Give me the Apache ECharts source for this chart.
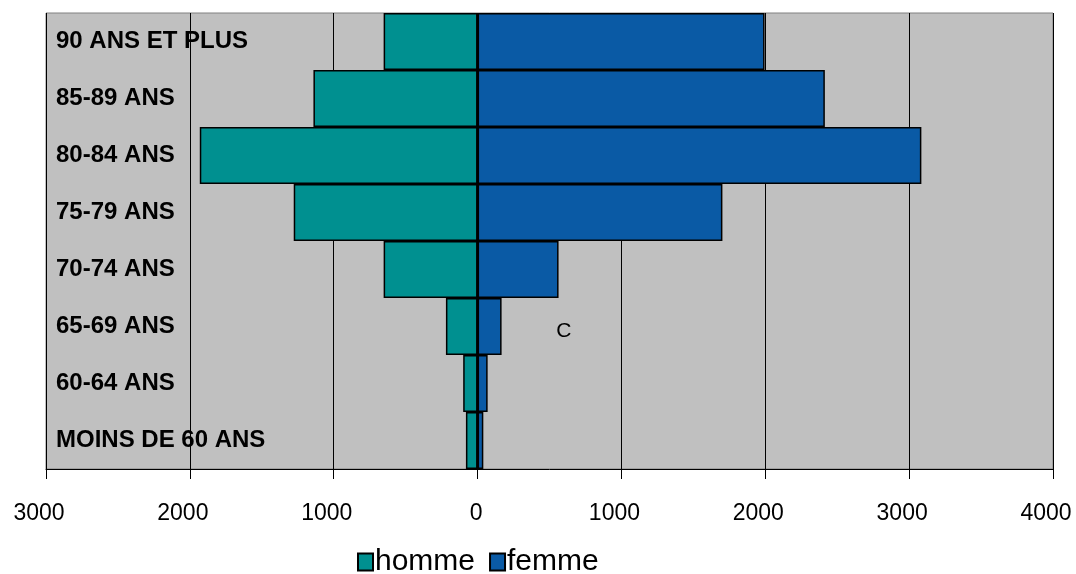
<!DOCTYPE html>
<html><head><meta charset="utf-8">
<script src="https://cdn.jsdelivr.net/npm/echarts@6/dist/echarts.min.js"></script>
<style>html,body{margin:0;padding:0;background:#fff}#c{width:1076px;height:574px}</style>
</head><body><div id="c"></div>
<script>
const categories = ['90 ANS ET PLUS','85-89 ANS','80-84 ANS','75-79 ANS','70-74 ANS','65-69 ANS','60-64 ANS','MOINS DE 60 ANS'];
const homme = [653, 1141, 1931, 1278, 653, 220, 100, 81];
const femme = [1995, 2414, 3085, 1702, 563, 167, 70, 40];
const xTicks = [-3000, 4000, 1000];
const note = {text: 'C', x: 600, y: '65-69 ANS'};

const chart = echarts.init(document.getElementById('c'));
const font = '"Liberation Sans", Arial, sans-serif';
chart.setOption({
  animation: false,
  textStyle: {fontFamily: font},
  grid: {left: 46, right: 23, top: 13, bottom: 105, show: true, backgroundColor: '#C0C0C0', borderColor: '#808080', borderWidth: 1},
  legend: {
    top: 547, left: 357, padding: 0, itemWidth: 15, itemHeight: 17, itemGap: 14,
    icon: 'rect',
    textStyle: {fontSize: 30, color: '#000', fontFamily: font, padding: [0,0,0,-3]},
    data: ['homme','femme']
  },
  xAxis: {
    type: 'value', min: xTicks[0], max: xTicks[1], interval: xTicks[2],
    axisLine: {show: true, lineStyle: {color: '#000', width: 1}},
    axisTick: {show: true, length: 10, lineStyle: {color: '#000'}},
    axisLabel: {
      fontSize: 23, color: '#000', margin: 33,
      formatter: v => v === 0 ? '{b|0}' : '{a|' + Math.abs(v) + '}',
      rich: {
        a: {fontSize: 23, color: '#000', fontFamily: font, padding: [0, 14, 0, 0]},
        b: {fontSize: 23, color: '#000', fontFamily: font, padding: [0, 3, 0, 0]}
      }
    },
    splitLine: {show: true, lineStyle: {color: '#000', width: 1}}
  },
  yAxis: {
    type: 'category', data: categories, inverse: true,
    axisLine: {show: false}, axisTick: {show: false},
    axisLabel: {inside: true, margin: 10, fontSize: 24, fontWeight: 'bold', color: '#000', fontFamily: font},
    splitLine: {show: false}, z: 5
  },
  series: [
    {name: 'homme', type: 'bar', stack: 't', barCategoryGap: 0,
     data: homme.map(v => -v),
     itemStyle: {color: '#009090', borderColor: '#000', borderWidth: 1.5},
     markPoint: {symbol: 'circle', symbolSize: 0, data: [{coord: [note.x, note.y], value: note.text}],
       label: {show: true, position: 'inside', offset: [0, 5], formatter: note.text, fontSize: 21, color: '#000', fontFamily: font}}
    },
    {name: 'femme', type: 'bar', stack: 't', barCategoryGap: 0,
     data: femme,
     itemStyle: {color: '#0A5AA5', borderColor: '#000', borderWidth: 1.5}}
  ]
});
</script></body></html>
